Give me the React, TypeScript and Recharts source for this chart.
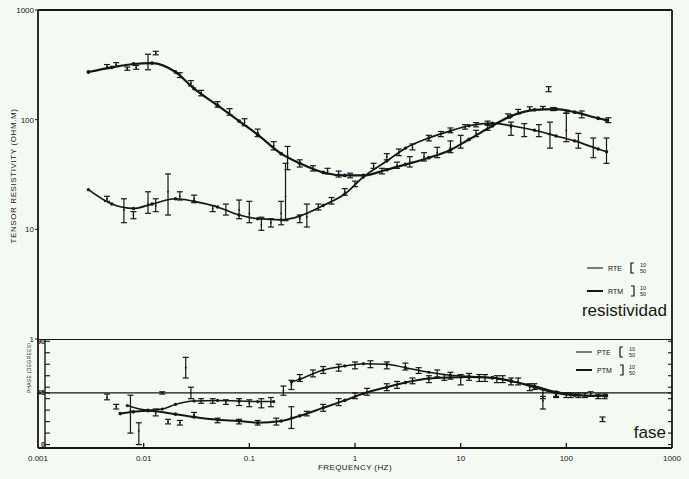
import React from 'react'
import { ComposedChart, Line, Scatter, ErrorBar, XAxis, YAxis, ReferenceLine } from 'recharts'

// fitted model curves, apparent resistivity (ohm.m) vs frequency (Hz)
const RHO_FREQ = [0.003, 0.005, 0.008, 0.012, 0.02, 0.03, 0.05, 0.08, 0.12, 0.2, 0.3, 0.5, 0.8, 1.2, 2, 3, 5, 8, 12, 20, 30, 50, 80, 120, 200, 240]
const RTM_FIT = [272, 300, 322, 328, 272, 192, 135, 97, 73, 49, 40, 33, 31, 31, 35, 39, 45, 53, 66, 88, 108, 123, 125, 117, 103, 99]
const RTE_FIT = [23, 17, 15.5, 17, 19, 18, 16, 13.5, 12.5, 12.2, 13.2, 16.5, 21, 30, 42, 55, 68, 79, 88, 93, 88, 80, 71, 64, 54, 51]

// observed resistivities with error limits
const RTM_OBS_F = [0.0045, 0.0055, 0.007, 0.0085, 0.011, 0.013, 0.022, 0.028, 0.035, 0.05, 0.065, 0.09, 0.12, 0.17, 0.23, 0.3, 0.4, 0.55, 0.7, 0.9, 1.8, 2.5, 3.3, 4.5, 6, 8, 10, 14, 18, 28, 35, 45, 60, 75, 100, 140, 250]
const RTM_OBS = [305, 318, 292, 300, 330, 405, 255, 215, 175, 138, 118, 95, 76, 58, 47, 40, 36, 34, 32, 31, 34, 38, 41, 46, 50, 56, 63, 75, 85, 108, 118, 126, 128, 125, 118, 112, 99]
const RTM_LO = [292, 305, 282, 288, 285, 390, 242, 203, 165, 130, 110, 88, 70, 53, 35, 37, 34, 32, 30, 29.5, 32, 36, 37, 42, 45, 50, 55, 70, 80, 103, 113, 121, 124, 121, 114, 104, 94]
const RTM_HI = [318, 331, 302, 312, 395, 420, 268, 227, 185, 146, 126, 102, 82, 63, 57, 43, 38, 36, 34, 32.5, 36, 41, 46, 50, 56, 64, 72, 80, 90, 113, 124, 131, 132, 129, 122, 120, 104]

const RTE_OBS_F = [0.0045, 0.0065, 0.008, 0.011, 0.013, 0.017, 0.022, 0.03, 0.045, 0.06, 0.08, 0.1, 0.13, 0.16, 0.2, 0.22, 0.3, 0.35, 0.45, 0.6, 0.8, 1.0, 1.5, 2, 2.6, 3.5, 5, 6.5, 8, 11, 14, 18, 30, 40, 55, 68, 70, 100, 130, 180, 240]
const RTE_OBS = [19, 15, 13.5, 17, 16.5, 22, 20, 19, 15.5, 15, 15, 14, 11, 11.5, 14, 20, 12.5, 13, 16, 18, 22, 26, 38, 46, 50, 56, 68, 74, 80, 86, 90, 93, 85, 83, 80, 190, 75, 80, 64, 56, 52]
const RTE_LO = [18, 11.5, 12.5, 14, 14.5, 13.5, 18.5, 17.5, 14.5, 13.5, 12.5, 11.5, 9.8, 10.5, 11, 12, 11.5, 10.5, 15, 17, 20.5, 24.5, 36, 43, 47, 53, 64, 70, 76, 82, 86, 89, 72, 70, 70, 180, 55, 63, 55, 45, 40]
const RTE_HI = [20, 19, 14.5, 22, 19, 32, 22, 20.5, 16.5, 17, 18.5, 18, 12.9, 12.5, 18, 40, 13.5, 17, 17, 19.5, 23.5, 27.5, 40, 49, 54, 60, 72, 78, 84, 90, 94, 97, 95, 92, 90, 200, 95, 115, 75, 68, 68]

// fitted phase curves (degrees)
const PTE_FREQ = [0.007, 0.011, 0.015, 0.02, 0.03, 0.05, 0.08, 0.12, 0.17, 0.2, 0.25, 0.3, 0.5, 0.8, 1.2, 2, 3, 5, 8, 12, 20, 30, 50, 80, 120, 200, 240]
const PTE_FIT = [34, 30, 31, 35, 38, 38.5, 38, 37.5, 37.5, null, 54.5, 57, 65, 68.5, 70.5, 70, 67, 63, 60.5, 59.5, 58, 55, 51, 46, 43.5, 42.5, 42.5]
const PTM_FREQ = [0.006, 0.008, 0.011, 0.02, 0.03, 0.05, 0.08, 0.12, 0.2, 0.3, 0.5, 0.8, 1.2, 2, 3, 5, 8, 12, 20, 30, 50, 80, 120, 200, 240]
const PTM_FIT = [27, 28.5, 29.5, 26.5, 24, 21.6, 20.5, 19, 20.5, 25, 32, 38.5, 44.5, 50, 54, 57.5, 58.5, 58.8, 58.3, 55.5, 50, 45, 43, 42.5, 42.5]

// observed phases
const PTE_OBS_F = [0.0045, 0.0055, 0.0075, 0.009, 0.015, 0.025, 0.028, 0.035, 0.045, 0.06, 0.08, 0.1, 0.13, 0.16, 0.21, 0.25, 0.3, 0.4, 0.5, 0.7, 1.0, 1.4, 2, 3, 4, 6, 8, 12, 17, 25, 35, 50, 60, 80, 110, 150, 200, 220]
const PTE_OBS = [41, 33, 30, 12, 45, 67, 45, 38, 38, 37, 37, 36, 36, 37, 47, 52, 58, 62, 65, 67, 69, 70, 69, 68, 65, 62, 60, 59, 58, 57, 55, 51, 45, 44, 43, 43, 42, 22]
const PTE_LO = [39, 31, 10, 0, 44, 58, 40, 36, 36, 35, 34, 33, 32, 33, 43, 48, 55, 59, 62, 64, 66, 67, 66, 65, 62, 59, 57, 56, 55, 54, 52, 48, 40, 42, 41, 41, 40, 20]
const PTE_HI = [44, 35, 43, 19, 46, 76, 50, 40, 40, 39, 40, 39, 40, 41, 51, 56, 61, 65, 68, 70, 72, 73, 72, 71, 67, 65, 63, 62, 61, 60, 58, 53, 48, 46, 45, 45, 44, 24]

const PTM_OBS_F = [0.013, 0.017, 0.022, 0.03, 0.05, 0.08, 0.12, 0.18, 0.25, 0.35, 0.5, 0.7, 1.0, 1.3, 2.0, 2.5, 3.5, 5, 7, 10, 15, 22, 30, 45, 60, 80, 100, 130, 170, 230]
const PTM_OBS = [28, 20, 19, 26, 21, 20, 19, 20, 24, 27, 32, 37, 42, 46, 50, 52, 56, 57, 58, 58, 58, 57, 55, 50, 38, 43, 43, 43, 44, 42]
const PTM_LO = [25, 18, 17, 24, 19, 18, 17, 17, 14, 25, 29, 34, 40, 43, 47, 49, 53, 54, 56, 52, 55, 54, 52, 47, 31, 41, 41, 41, 42, 40]
const PTM_HI = [31, 22, 21, 28, 23, 22, 21, 23, 33, 29, 35, 40, 45, 49, 53, 55, 58, 60, 61, 61, 61, 60, 58, 53, 42, 46, 45, 45, 46, 44]

const FREQ_TICKS = [0.001, 0.01, 0.1, 1, 10, 100, 1000]
const RHO_TICKS = [1, 10, 100, 1000]
const PHASE_TICKS = [0, 10, 20, 30, 40, 45, 50, 60, 70, 80, 90]

const INK = '#161616'
const BG = '#f4f9f2'
const FONT = '"Liberation Sans", Arial, sans-serif'

const fit = (f: number[], v: (number | null)[]) => f.map((x, i) => ({ f: x, v: v[i] }))
const obs = (f: number[], v: number[], lo: number[], hi: number[]) =>
  f.map((x, i) => ({ f: x, v: v[i], err: [v[i] - lo[i], hi[i] - v[i]] }))

const rtmFit = fit(RHO_FREQ, RTM_FIT)
const rteFit = fit(RHO_FREQ, RTE_FIT)
const pteFit = fit(PTE_FREQ, PTE_FIT)
const ptmFit = fit(PTM_FREQ, PTM_FIT)
const rtmObs = obs(RTM_OBS_F, RTM_OBS, RTM_LO, RTM_HI)
const rteObs = obs(RTE_OBS_F, RTE_OBS, RTE_LO, RTE_HI)
const pteObs = obs(PTE_OBS_F, PTE_OBS, PTE_LO, PTE_HI)
const ptmObs = obs(PTM_OBS_F, PTM_OBS, PTM_LO, PTM_HI)

const tinyMark = (p: any) => <circle cx={p.cx} cy={p.cy} r={0.9} fill={INK} />

const FreqTick = (p: any) => {
  const { x, y, payload } = p
  const edge = payload.value === 0.001 || payload.value === 1000
  return (
    <g>
      {!edge && <line x1={x} x2={x} y1={y - 5} y2={y} stroke={INK} strokeWidth={1.3} />}
      <text x={x} y={y + 13} textAnchor="middle" fontSize={8} fill={INK} fontFamily={FONT}>{String(payload.value)}</text>
    </g>
  )
}

const PhaseTickLeft = (p: any) => {
  const { y, payload } = p
  const v = payload.value
  return (
    <g>
      <line x1={45} x2={50} y1={y} y2={y} stroke={INK} strokeWidth={1.1} />
      {(v === 0 || v === 45 || v === 90) && (
        <text x={45} y={y + 2.5} textAnchor="end" fontSize={7} fontWeight="bold" fill={INK} fontFamily={FONT}>{v}</text>
      )}
    </g>
  )
}

const PhaseTickRight = (p: any) => {
  const { y } = p
  return <line x1={668} x2={672} y1={y} y2={y} stroke={INK} strokeWidth={1.1} />
}

// bracket glyph used as the legend symbol for each series
function Bracket({ x, y, open }: { x: number; y: number; open: boolean }) {
  const d = open ? `M${x + 3},${y - 5} H${x} V${y + 5} H${x + 3}` : `M${x},${y - 5} H${x + 3} V${y + 5} H${x}`
  return <path d={d} fill="none" stroke={INK} strokeWidth={1.2} />
}

function LegendRow({ x, y, label, open, thick }: { x: number; y: number; label: string; open: boolean; thick: boolean }) {
  return (
    <g fontFamily={FONT}>
      <line x1={x} x2={x + 16} y1={y} y2={y} stroke={INK} strokeWidth={thick ? 2 : 1.1} />
      <text x={x + 21} y={y + 2.5} fontSize={7} fill={INK}>{label}</text>
      <Bracket x={x + 44} y={y} open={open} />
      <text x={x + 53} y={y - 1} fontSize={5.5} fill={INK}>10</text>
      <text x={x + 53} y={y + 5} fontSize={5.5} fill={INK}>50</text>
    </g>
  )
}

export default function App() {
  return (
    <div style={{ position: 'absolute', left: 0, top: 0, width: 689, height: 479, background: BG, overflow: 'hidden' }}>
      <div style={{ position: 'absolute', left: 0, top: 0 }}>
        <ComposedChart width={689} height={350} margin={{ top: 10, right: 17, bottom: 11, left: 0 }}>
          <XAxis type="number" dataKey="f" scale="log" domain={[0.001, 1000]} allowDataOverflow hide />
          <YAxis
            type="number"
            dataKey="v"
            scale="log"
            domain={[1, 1000]}
            allowDataOverflow
            ticks={RHO_TICKS}
            interval={0}
            width={38}
            tickSize={3}
            tickMargin={1}
            stroke={INK}
            axisLine={{ stroke: INK, strokeWidth: 1.8 }}
            tick={{ fontSize: 8, fill: INK, fontFamily: FONT }}
          />
          <ReferenceLine y={1000} stroke={INK} strokeWidth={1.8} />
          <ReferenceLine x={1000} stroke={INK} strokeWidth={1.8} />
          <Line data={rtmFit} dataKey="v" type="monotone" stroke={INK} strokeWidth={2.2} dot={{ r: 1.9, fill: INK, stroke: 'none' }} isAnimationActive={false} />
          <Line data={rteFit} dataKey="v" type="monotone" stroke={INK} strokeWidth={1.7} dot={{ r: 1.7, fill: INK, stroke: 'none' }} isAnimationActive={false} />
          <Scatter data={rtmObs} dataKey="v" shape={tinyMark} isAnimationActive={false}>
            <ErrorBar dataKey="err" direction="y" width={3} stroke={INK} strokeWidth={1.2} />
          </Scatter>
          <Scatter data={rteObs} dataKey="v" shape={tinyMark} isAnimationActive={false}>
            <ErrorBar dataKey="err" direction="y" width={3} stroke={INK} strokeWidth={1.2} />
          </Scatter>
        </ComposedChart>
      </div>
      <div style={{ position: 'absolute', left: 0, top: 339 }}>
        <ComposedChart width={689} height={140} margin={{ top: 0, right: 0, bottom: 0, left: 0 }}>
          <XAxis
            type="number"
            dataKey="f"
            scale="log"
            domain={[0.001, 1000]}
            allowDataOverflow
            ticks={FREQ_TICKS}
            interval={0}
            height={31}
            tickSize={0}
            tickMargin={0}
            axisLine={{ stroke: INK, strokeWidth: 2.2 }}
            tick={<FreqTick />}
          />
          <YAxis
            yAxisId="l"
            type="number"
            dataKey="v"
            domain={[-3, 92]}
            allowDataOverflow
            ticks={PHASE_TICKS}
            interval={0}
            width={38}
            tickSize={0}
            tickMargin={0}
            axisLine={{ stroke: INK, strokeWidth: 1.8 }}
            tick={<PhaseTickLeft />}
          />
          <YAxis
            yAxisId="r"
            orientation="right"
            type="number"
            domain={[-3, 92]}
            allowDataOverflow
            ticks={PHASE_TICKS}
            interval={0}
            width={17}
            tickSize={0}
            tickMargin={0}
            axisLine={{ stroke: INK, strokeWidth: 1.8 }}
            tick={<PhaseTickRight />}
          />
          <ReferenceLine yAxisId="l" y={92} stroke={INK} strokeWidth={1.8} />
          <ReferenceLine yAxisId="l" y={45} stroke={INK} strokeWidth={1.2} />
          <Line yAxisId="l" data={ptmFit} dataKey="v" type="monotone" stroke={INK} strokeWidth={2} dot={{ r: 1.8, fill: INK, stroke: 'none' }} isAnimationActive={false} />
          <Line yAxisId="l" data={pteFit} dataKey="v" type="monotone" stroke={INK} strokeWidth={1.5} dot={{ r: 1.6, fill: INK, stroke: 'none' }} connectNulls={false} isAnimationActive={false} />
          <Scatter yAxisId="l" data={ptmObs} dataKey="v" shape={tinyMark} isAnimationActive={false}>
            <ErrorBar dataKey="err" direction="y" width={3} stroke={INK} strokeWidth={1.2} />
          </Scatter>
          <Scatter yAxisId="l" data={pteObs} dataKey="v" shape={tinyMark} isAnimationActive={false}>
            <ErrorBar dataKey="err" direction="y" width={3} stroke={INK} strokeWidth={1.2} />
          </Scatter>
        </ComposedChart>
      </div>
      <svg width={689} height={479} style={{ position: 'absolute', left: 0, top: 0, pointerEvents: 'none' }}>
        <line x1={45} x2={45} y1={339} y2={448} stroke={INK} strokeWidth={1.4} />
        <text transform="translate(16,176) rotate(-90)" textAnchor="middle" fontSize={8} letterSpacing={0.6} fill={INK} fontFamily={FONT}>
          TENSOR RESISTIVITY (OHM.M)
        </text>
        <text transform="translate(31,368) rotate(-90)" textAnchor="middle" fontSize={5} letterSpacing={0.3} fill={INK} fontFamily={FONT}>
          PHASE (DEGREES)
        </text>
        <text x={355} y={470} textAnchor="middle" fontSize={8} letterSpacing={0.4} fill={INK} fontFamily={FONT}>
          FREQUENCY (HZ)
        </text>
        <LegendRow x={587} y={268} label="RTE" open={true} thick={false} />
        <LegendRow x={587} y={291} label="RTM" open={false} thick={true} />
        <text x={667} y={316} textAnchor="end" fontSize={17} fill={INK} fontFamily={FONT}>resistividad</text>
        <LegendRow x={576} y={352} label="PTE" open={true} thick={false} />
        <LegendRow x={576} y={370} label="PTM" open={false} thick={true} />
        <text x={666} y={438} textAnchor="end" fontSize={17} fill={INK} fontFamily={FONT}>fase</text>
      </svg>
    </div>
  )
}
